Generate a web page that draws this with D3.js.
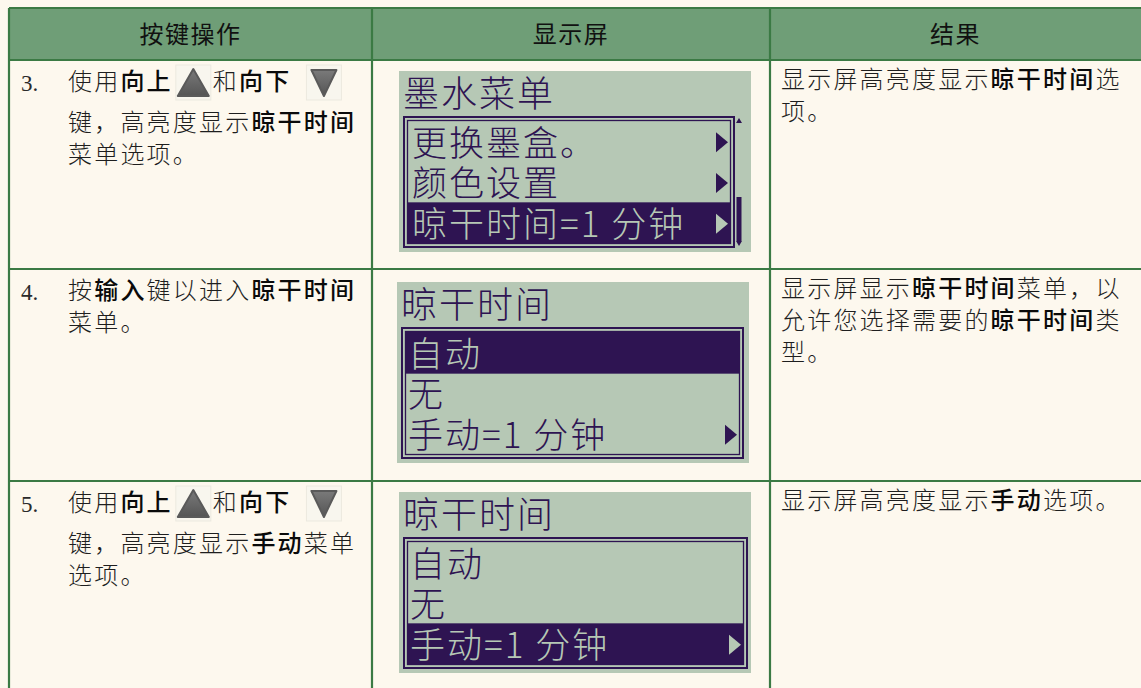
<!DOCTYPE html>
<html><head><meta charset="utf-8">
<script src="https://cdn.jsdelivr.net/npm/d3@7"></script>
<style>
html,body{margin:0;padding:0;background:#fdf8ee;}
svg{display:block;}
</style></head>
<body>
<svg id="c" width="1141" height="688"></svg>
<script>
// ---------- data ----------
const headers = ["按键操作", "显示屏", "结果"];
const stepNumbers = ["3.", "4.", "5."];
// action text: lines of segments; b = bold term, icon = key glyph
const actionLines = [
  [[{t:"使用"},{t:"向上",b:1},{icon:"up"},{t:"和"},{t:"向下",b:1},{gap:12},{icon:"down"}],
   [{t:"键，高亮度显示"},{t:"晾干时间",b:1}],
   [{t:"菜单选项。"}]],
  [[{t:"按"},{t:"输入",b:1},{t:"键以进入"},{t:"晾干时间",b:1}],
   [{t:"菜单。"}]],
  [[{t:"使用"},{t:"向上",b:1},{icon:"up"},{t:"和"},{t:"向下",b:1},{gap:12},{icon:"down"}],
   [{t:"键，高亮度显示"},{t:"手动",b:1},{t:"菜单"}],
   [{t:"选项。"}]]
];
const lcdTitles = ["墨水菜单", "晾干时间", "晾干时间"];
const lcdItems = [
  ["更换墨盒。", "颜色设置", "晾干时间=1 分钟"],
  ["自动", "无", "手动=1 分钟"],
  ["自动", "无", "手动=1 分钟"]
];
const lcdArrows = [[1,1,1],[0,0,1],[0,0,1]];
const lcdHighlight = [2, 0, 2];
const lcdScrollbar = [1, 0, 0];
const resultLines = [
  [[{t:"显示屏高亮度显示"},{t:"晾干时间",b:1},{t:"选"}],
   [{t:"项。"}]],
  [[{t:"显示屏显示"},{t:"晾干时间",b:1},{t:"菜单，以"}],
   [{t:"允许您选择需要的"},{t:"晾干时间",b:1},{t:"类"}],
   [{t:"型。"}]],
  [[{t:"显示屏高亮度显示"},{t:"手动",b:1},{t:"选项。"}]]
];

// ---------- layout ----------
const svg = d3.select("#c");
const W = 1141, H = 688;
const colEdges = [9, 372, 770, 1145];
const rowEdges = [8, 60, 269, 481, 700];
const BORDER = "#3b7a44", HEAD = "#6f9e77", BG = "#fdf8ee";
const LCD_BG = "#b6c8b5", LCD_INK = "#2e1452";
const FONT = "'Noto Sans CJK SC','Noto Sans',sans-serif";

const rowIdx = d3.range(rowEdges.length - 1);
const yTop = d3.scaleOrdinal().domain(rowIdx).range(rowEdges.slice(0, -1));
const xL = d3.scaleOrdinal().domain([0,1,2]).range(colEdges.slice(0,-1));
const xR = d3.scaleOrdinal().domain([0,1,2]).range(colEdges.slice(1));

svg.append("rect").attr("width", W).attr("height", H).attr("fill", BG);
// header
svg.append("rect").attr("x", colEdges[0]).attr("y", rowEdges[0])
  .attr("width", colEdges[3]-colEdges[0]).attr("height", rowEdges[1]-rowEdges[0]).attr("fill", HEAD);
svg.selectAll("text.hd").data(headers).join("text").attr("class","hd")
  .attr("x", (d,i) => (xL(i)+xR(i))/2 - (i===2?2:0)).attr("y", 43)
  .attr("text-anchor","middle").attr("font-family",FONT).attr("font-size",24)
  .attr("fill","#111").attr("letter-spacing",1.5).text(d => d);

// rich text writer
function writeLine(g, segs, x0, y, size) {
  let x = x0;
  segs.forEach(s => {
    if (s.gap) { x += s.gap; return; }
    if (s.icon) { drawKey(g, x + 3, y, s.icon); x += 40; return; }
    const t = g.append("text").attr("x", x).attr("y", y)
      .attr("font-family", FONT).attr("font-size", size)
      .attr("letter-spacing", 2.2)
      .attr("font-weight", s.b ? 500 : 300)
      .attr("fill", s.b ? "#0a0a0a" : "#1e1e1e").text(s.t);
    x += t.node().getComputedTextLength();
  });
}
const defs = svg.append("defs");
const gu = defs.append("linearGradient").attr("id","gk").attr("x1",0).attr("y1",0).attr("x2",0).attr("y2",1);
gu.append("stop").attr("offset",0).attr("stop-color","#7a7a7a");
gu.append("stop").attr("offset",1).attr("stop-color","#555");
function drawKey(g, x, y, dir) {
  const top = y - 25;
  g.append("rect").attr("x", x).attr("y", top).attr("width", 35).attr("height", 35)
    .attr("fill", "#f8f6ee").attr("stroke", "#ece9df").attr("stroke-width", 1);
  const p = dir === "up"
    ? [[x+17.5, top+4],[x+33, top+31],[x+2, top+31]]
    : [[x+5, top+5],[x+30, top+5],[x+17.5, top+31]];
  g.append("path").attr("d", d3.line().curve(d3.curveLinearClosed)(p))
    .attr("fill", "url(#gk)").attr("stroke", "#5a5a5a").attr("stroke-width", 2)
    .attr("stroke-linejoin", "round");
}

// body rows
[0,1,2].forEach(r => {
  const row = r + 1;
  const top = yTop(row);
  const g = svg.append("g");
  g.append("text").attr("x", 21).attr("y", top + 31)
    .attr("font-family", "'Liberation Serif','DejaVu Serif',serif").attr("font-size", 23)
    .attr("fill", "#2a2a2a").text(stepNumbers[r]);
  actionLines[r].forEach((ln, i) => {
    const y = top + 30 + (i === 0 ? 0 : (r === 1 ? 32 * i : 9 + 32 * i));
    writeLine(g, ln, 68, y, 24);
  });
  resultLines[r].forEach((ln, i) => writeLine(g, ln, 781, top + 28 + 32 * i, 24));

  // LCD
  const lx = r === 1 ? 397 : 399, ly = top + (r === 1 ? 13 : 11);
  const lw = 352, lh = 181;
  const L = svg.append("g").attr("transform", `translate(${lx},${ly})`);
  L.append("rect").attr("width", lw).attr("height", lh).attr("fill", LCD_BG);
  L.append("text").attr("x", 4).attr("y", 36).attr("font-family", FONT)
    .attr("font-size", 36).attr("font-weight", 300).attr("fill", LCD_INK)
    .attr("letter-spacing", 2).text(lcdTitles[r]);
  const bx = 5, by = 46, bw = lcdScrollbar[r] ? 330 : (r === 1 ? 341 : 343), bh = 130;
  L.append("rect").attr("x", bx).attr("y", by).attr("width", bw).attr("height", bh)
    .attr("fill", "none").attr("stroke", LCD_INK).attr("stroke-width", 2);
  L.append("rect").attr("x", bx+3.5).attr("y", by+3.5).attr("width", bw-7).attr("height", bh-7)
    .attr("fill", "none").attr("stroke", LCD_INK).attr("stroke-width", 1.3);
  const slot = d3.scaleBand().domain([0,1,2]).range([by + 4, by + bh - 4]);
  lcdItems[r].forEach((it, k) => {
    const hi = k === lcdHighlight[r];
    const sy = slot(k);
    if (hi) L.append("rect").attr("x", bx + 3).attr("y", sy).attr("width", bw - 6)
      .attr("height", slot.bandwidth() + 1).attr("fill", LCD_INK);
    L.append("text").attr("x", bx + (r === 0 ? 8 : 6)).attr("y", sy + slot.bandwidth() - 6)
      .attr("font-family", FONT).attr("font-size", 35).attr("font-weight", 300)
      .attr("fill", hi ? LCD_BG : LCD_INK).attr("letter-spacing", 2).text(it);
    if (lcdArrows[r][k]) {
      const ax = bx + bw - 18, cy = sy + slot.bandwidth()/2 + 1;
      L.append("path").attr("d", d3.line().curve(d3.curveLinearClosed)([[ax, cy-10],[ax+12, cy],[ax, cy+10]]))
        .attr("fill", hi ? LCD_BG : LCD_INK);
    }
  });
  if (lcdScrollbar[r]) {
    const sx = bx + bw + 5;
    L.append("path").attr("d", `M${sx-3},${by+6}L${sx},${by+1}L${sx+3},${by+6}Z`).attr("fill", LCD_INK);
    L.append("path").attr("d", `M${sx-3},${by+bh-6}L${sx},${by+bh-1}L${sx+3},${by+bh-6}Z`).attr("fill", LCD_INK);
    L.append("rect").attr("x", sx-2.5).attr("y", by + 80).attr("width", 5).attr("height", 44).attr("fill", LCD_INK);
  }
});

// grid lines
const grid = svg.append("g").attr("stroke", BORDER).attr("stroke-width", 2.2).attr("fill","none");
rowEdges.slice(0, 4).forEach(y => grid.append("line").attr("x1", colEdges[0]).attr("x2", colEdges[3]).attr("y1", y).attr("y2", y));
colEdges.slice(0, 3).forEach(x => grid.append("line").attr("x1", x).attr("x2", x).attr("y1", rowEdges[0]).attr("y2", rowEdges[4]));
</script>
</body></html>
